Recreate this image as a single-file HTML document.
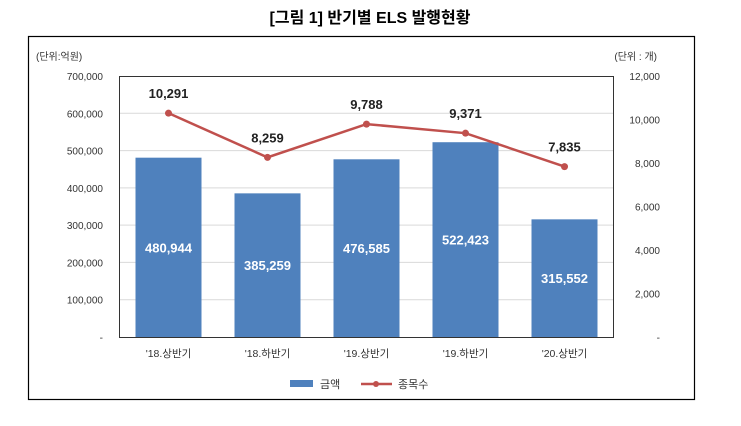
<!DOCTYPE html>
<html><head><meta charset="utf-8"><style>
body{margin:0;background:#fff;width:741px;height:421px;overflow:hidden}
svg text{font-family:"Liberation Sans","Noto Sans CJK KR",sans-serif}
</style></head><body>
<svg width="741" height="421">
<text x="370" y="23" text-anchor="middle" font-size="16" font-weight="bold">[그림 1] 반기별 ELS 발행현황</text>
<rect x="28.5" y="36.5" width="666" height="363" fill="none" stroke="#000" stroke-width="1.2"/>
<text x="36" y="60" font-size="10" fill="#333">(단위:억원)</text>
<text x="657" y="60" font-size="10" fill="#333" text-anchor="end">(단위 : 개)</text>
<g id="grid"></g><g id="bars"></g><g id="line"></g><g id="axes"></g>
<rect x="119.5" y="76.5" width="494" height="261" fill="none" stroke="#333" stroke-width="1"/>
<rect x="290" y="380" width="23" height="7" fill="#4f81bd"/>
<text x="320" y="388" font-size="11" fill="#333">금액</text>
<line x1="361" y1="384" x2="392" y2="384" stroke="#c0504d" stroke-width="2.5"/>
<circle cx="376" cy="384" r="3" fill="#c0504d"/>
<text x="398" y="388" font-size="11" fill="#333">종목수</text>
</svg>
<script>
const categories=["'18.상반기","'18.하반기","'19.상반기","'19.하반기","'20.상반기"];
const amounts=[480944,385259,476585,522423,315552];
const counts=[10291,8259,9788,9371,7835];
const leftTicks=[0,100000,200000,300000,400000,500000,600000,700000];
const rightTicks=[0,2000,4000,6000,8000,10000,12000];
const NS="http://www.w3.org/2000/svg";
const pTop=76,pBot=337,pLeft=119,pRight=614;
const yL=v=>pBot-(v/700000)*(pBot-pTop);
const yR=v=>pBot-(v/12000)*(pBot-pTop);
const xC=i=>pLeft+(pRight-pLeft)/categories.length*(i+0.5);
const fmt=v=>v===0?"-":v.toLocaleString("en-US");
function mk(t,a,p){const e=document.createElementNS(NS,t);for(const k in a)e.setAttribute(k,a[k]);document.getElementById(p).appendChild(e);return e;}
leftTicks.forEach(v=>{
 if(v>0&&v<700000){const g=mk("line",{x1:pLeft,x2:pRight,y1:yL(v),y2:yL(v),stroke:"#d9d9d9"},"grid");
 
 }
 const t=mk("text",{x:103,y:yL(v)+4,"text-anchor":"end","font-size":10,fill:"#333"},"axes");t.textContent=fmt(v);
 
 
});
rightTicks.forEach(v=>{
 const t=mk("text",{x:660,y:yR(v)+4,"text-anchor":"end","font-size":10,fill:"#333"},"axes");t.textContent=fmt(v);
 
 
});
const bw=66;
amounts.forEach((v,i)=>{
 const b=mk("rect",{x:xC(i)-bw/2,y:yL(v),width:bw,height:pBot-yL(v),fill:"#4f81bd"},"bars");
 
 
 const t=mk("text",{x:xC(i),y:(yL(v)+pBot)/2+5,"text-anchor":"middle","font-size":13,"font-weight":"bold",fill:"#fff"},"bars");t.textContent=fmt(v);
 
 
 const c=mk("text",{x:xC(i),y:357,"text-anchor":"middle","font-size":10.5,fill:"#333"},"axes");c.textContent=categories[i];
 
 
});
const pl=mk("polyline",{points:counts.map((v,i)=>xC(i)+","+yR(v)).join(" "),fill:"none",stroke:"#c0504d","stroke-width":2.5},"line");


counts.forEach((v,i)=>{
 const c=mk("circle",{cx:xC(i),cy:yR(v),r:3.5,fill:"#c0504d"},"line");
 
 
 const t=mk("text",{x:xC(i),y:yR(v)-15,"text-anchor":"middle","font-size":13,"font-weight":"bold",fill:"#222"},"line");t.textContent=fmt(v);
 
 
});
</script>
</body></html>
